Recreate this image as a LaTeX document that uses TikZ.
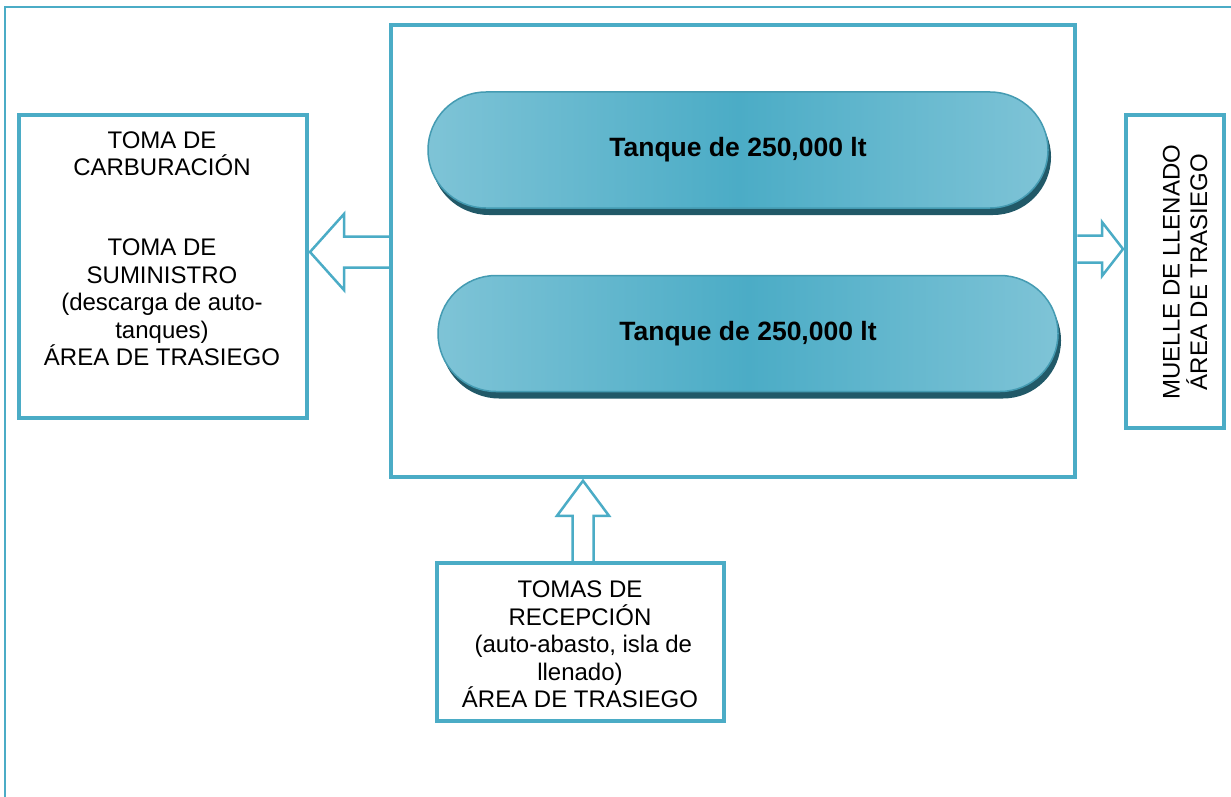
\documentclass[tikz,border=0pt]{standalone}
\usepackage{fontspec}
\setmainfont{Liberation Sans}
\usetikzlibrary{calc,shadows}
\definecolor{acc}{HTML}{4BACC6}
\definecolor{tl}{HTML}{93CDDD}
\definecolor{td}{HTML}{4BACC6}
\definecolor{tsh}{HTML}{215968}
\pgfdeclarehorizontalshading{tankshade}{100bp}{color(0bp)=(tl); color(15bp)=(tl); color(50bp)=(td); color(85bp)=(tl); color(100bp)=(tl)}
\begin{document}
\begin{tikzpicture}[x=1pt,y=-1pt,
  frame/.style={draw=acc,line width=2pt},
  box/.style={draw=acc,line width=4pt,inner sep=0pt},
  bigbox/.style={draw=acc,line width=4.5pt,inner sep=0pt},
  txt/.style={align=center,inner sep=0pt,font=\fontsize{24}{27.5}\selectfont},
  tank/.style={draw=acc!90!black,line width=1.5pt,rounded corners=58pt,shading=tankshade,
    minimum width=620pt,minimum height=116pt,inner sep=0pt,
    font=\fontsize{26.5}{30}\selectfont\bfseries,
    drop shadow={shadow xshift=3pt,shadow yshift=-7pt,fill=tsh,opacity=1}},
  arr/.style={draw=acc,line width=2.5pt,line join=miter}]
\useasboundingbox (0,0) rectangle (1231,797);
\fill[white] (0,0) rectangle (1231,797);
% outer frame
\draw[frame] (5,797) -- (5,7) -- (1231,7);
% main box
\node[bigbox,minimum width=684pt,minimum height=452pt] (main) at (733,251) {};
% tanks
\node[tank] (tank1) at (738,150) {Tanque de 250,000 lt};
\node[tank] (tank2) at (748,333.5) {Tanque de 250,000 lt};
% left box
\node[box,minimum width=288pt,minimum height=303pt] (left) at (162.5,266.5) {};
\node[txt,anchor=north] (lefttxt) at (162,131.5) {TOMA DE\\CARBURACIÓN\\[52.5pt]TOMA DE\\SUMINISTRO\\(descarga de auto-\\tanques)\\ÁREA DE TRASIEGO};
% right box
\node[box,minimum width=98pt,minimum height=313pt] (right) at (1175,271.5) {};
\node[txt,rotate=90] (righttxt) at (1185,272) {MUELLE DE LLENADO\\ÁREA DE TRASIEGO};
% bottom box
\node[box,minimum width=287pt,minimum height=158pt] (bot) at (580.5,642) {};
\node[txt] (bottxt) at (580,644.5) {TOMAS DE\\RECEPCIÓN\\\ (auto-abasto, isla de\\llenado)\\ÁREA DE TRASIEGO};
% left arrow
\coordinate (lt) at ($(left.east |- 0,252)+(1.5,0)$);
\draw[arr] (main.west |- 0,236.5) -- ($(lt)+(34,-15.5)$) -- ($(lt)+(34,-38)$) -- (lt)
  -- ($(lt)+(34,38)$) -- ($(lt)+(34,15.5)$) -- (main.west |- 0,267.5);
% right arrow
\coordinate (rt) at ($(right.west |- 0,249)+(-1,0)$);
\draw[arr] (main.east |- 0,235.5) -- ($(rt)+(-21,-13.5)$) -- ($(rt)+(-21,-27)$) -- (rt)
  -- ($(rt)+(-21,27)$) -- ($(rt)+(-21,13.5)$) -- (main.east |- 0,262.5);
% bottom arrow
\coordinate (bt) at ($(main.south -| 583,0)+(0,1.5)$);
\draw[arr] (bot.north -| 572.5,0) -- ($(bt)+(-10.5,35)$) -- ($(bt)+(-26,35)$) -- (bt)
  -- ($(bt)+(26,35)$) -- ($(bt)+(10.5,35)$) -- (bot.north -| 593.5,0);
\end{tikzpicture}
\end{document}
